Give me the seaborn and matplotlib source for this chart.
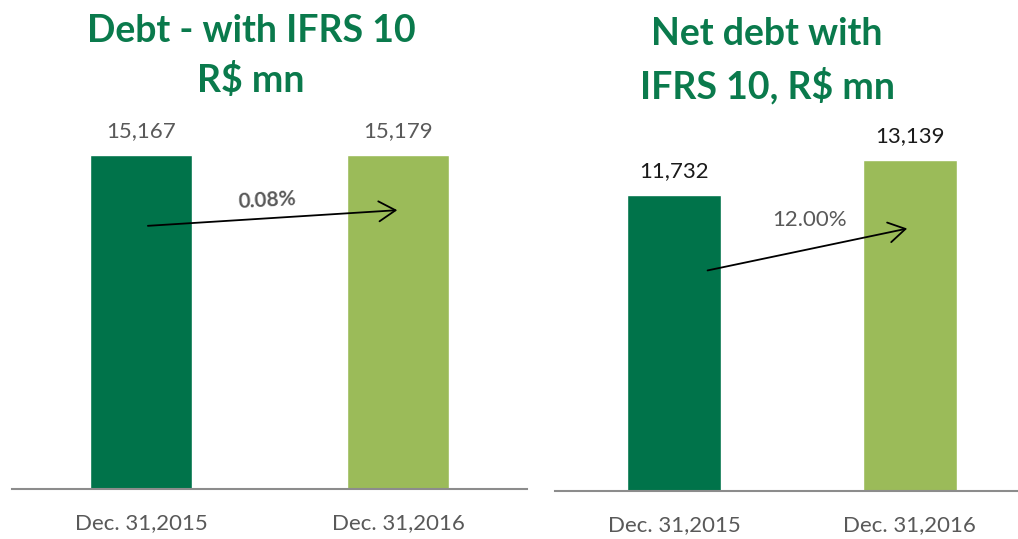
import matplotlib
matplotlib.use("Agg")
import matplotlib.pyplot as plt
import seaborn as sns
import pandas as pd

# data
dates = ["Dec. 31,2015", "Dec. 31,2016"]
debt = [15167, 15179]
net_debt = [11732, 13139]
debt_change = "0.08%"
net_debt_change = "12.00%"
bar_colors = ["#00734A", "#9BBB59"]
title_green = "#0A7A4C"

sns.set_theme(style="white")
plt.rcParams['font.family'] = ['Lato', 'DejaVu Sans']

fig = plt.figure(figsize=(10.18, 5.39), dpi=100)

# left axes: baseline at y=489px, bars 90-192 / 347-449
ax1 = fig.add_axes([12 / 1018, 50 / 539, 515 / 1018, 389 / 539])
# right axes: baseline at y=491px
ax2 = fig.add_axes([555 / 1018, 48 / 539, 463 / 1018, 391 / 539])


def draw_panel(ax, values, ylim, xlim, label_color):
    df = pd.DataFrame({"date": dates, "value": values})
    sns.barplot(data=df, x="date", y="value", hue="date", palette=bar_colors,
                width=0.4, legend=False, ax=ax, saturation=1)
    ax.set_ylim(0, ylim)
    ax.set_xlim(*xlim)
    for c in ax.containers:
        ax.bar_label(c, labels=[f"{int(round(v)):,}" for v in c.datavalues],
                     padding=10, fontsize=16, color=label_color)
    for s in ["top", "left", "right"]:
        ax.spines[s].set_visible(False)
    ax.spines["bottom"].set_color("#8C8C8C")
    ax.spines["bottom"].set_linewidth(1.5)
    ax.set_yticks([])
    ax.set_xlabel("")
    ax.set_ylabel("")
    ax.tick_params(axis="x", length=0, pad=17, labelsize=16, labelcolor="#595959")
    ax.patch.set_alpha(0)


draw_panel(ax1, debt, 17665, (-0.502, 1.502), "#595959")
draw_panel(ax2, net_debt, 15516, (-0.504, 1.458), "#1A1A1A")

# growth arrows
ax1.annotate("", xy=(1.008, 12670), xytext=(0.016, 11943),
             arrowprops=dict(arrowstyle="->,head_length=0.5,head_width=0.3",
                             color="black", lw=1.3, mutation_scale=24))
ax1.text(0.49, 13124, debt_change, ha="center", va="center", fontsize=15,
         fontweight="bold", color="#595959", rotation=3)

ax2.annotate("", xy=(1.0, 10437), xytext=(0.131, 8730),
             arrowprops=dict(arrowstyle="->,head_length=0.5,head_width=0.3",
                             color="black", lw=1.3, mutation_scale=24))
ax2.text(0.576, 10754, net_debt_change, ha="center", va="center", fontsize=16,
         color="#595959")

# titles
fig.text(251 / 1018, 1 - 56 / 539, "Debt - with IFRS 10\nR$ mn", ha="center",
         va="center", fontsize=27, fontweight="bold", color=title_green,
         linespacing=1.45)
fig.text(767 / 1018, 1 - 61 / 539, "Net debt with\nIFRS 10, R$ mn", ha="center",
         va="center", fontsize=27, fontweight="bold", color=title_green,
         linespacing=1.5)

fig.savefig("out.png", dpi=100, facecolor="white")
